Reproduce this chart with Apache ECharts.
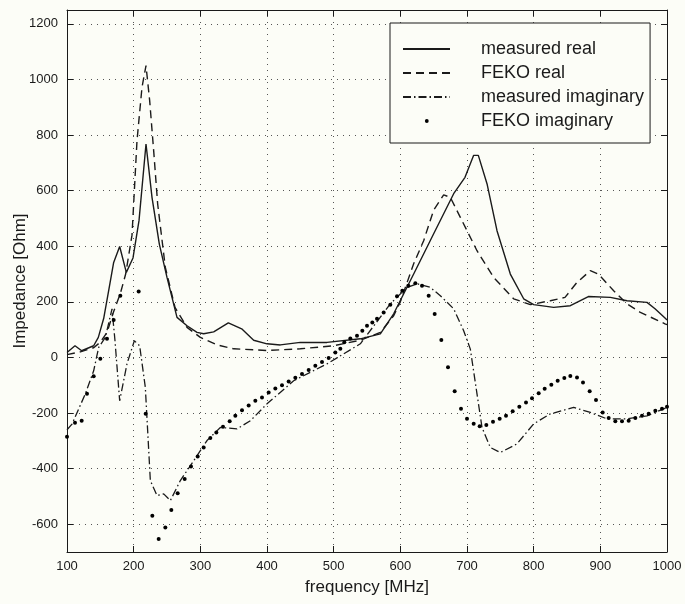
<!DOCTYPE html>
<html><head><meta charset="utf-8">
<script src="https://cdn.jsdelivr.net/npm/echarts@6/dist/echarts.min.js"></script>
<style>html,body{margin:0;padding:0;background:#fcfdf7}#c{width:685px;height:604px}</style>
</head><body><div id="c"></div>
<script>
const seriesNames = ['measured real', 'FEKO real', 'measured imaginary', 'FEKO imaginary'];
const yTicks = [-600, -400, -200, 0, 200, 400, 600, 800, 1000, 1200];

const measuredReal = [[100,18],[112,42],[122,24],[140,42],[147,72],[155,140],[162.5,240],[170,342],[179,399],[189,306],[199,358],[208,492],[218.5,768],[227.5,576],[238.5,408],[250,288],[265,144],[280,114],[295,90],[305,85],[320,92],[342,124],[362,103],[380,62],[400,49],[420,45],[450,54],[490,54],[540,67],[570,85],[590,157],[620,300],[650,445],[680,589],[697,648],[710,727],[717,727],[730,625],[745,456],[765,300],[785,211],[800,190],[830,180],[855,186],[882,219],[915,216],[940,204],[970,198],[982,175],[997,142],[1000,135]];

const fekoReal = [[100,10],[120,20],[140,35],[150,55],[160,90],[170,165],[180,230],[188,300],[197.5,440],[205,780],[212.5,972],[218.5,1050],[224,924],[230,744],[236,552],[247.5,324],[262,180],[280,108],[300,72],[325,45],[350,31],[400,25],[450,31],[500,42],[540,62],[570,90],[590,150],[600,200],[620,337],[635,420],[650,530],[665,585],[675,576],[690,504],[715,384],[740,288],[770,211],[795,190],[825,204],[847,216],[865,270],[885,312],[897,300],[920,240],[940,193],[960,162],[997,121],[1000,118]];

const measuredImag = [[100,-260],[107.5,-240],[127.5,-131],[140,-48],[147.5,36],[157.5,72],[167.5,175],[172,60],[179,-156],[190,-23],[201,60],[209,42],[217.5,-108],[221,-264],[225,-443],[235,-497],[245,-491],[255,-515],[270,-443],[290,-372],[310,-299],[330,-252],[355,-257],[375,-228],[400,-167],[440,-84],[490,-23],[540,49],[585,193],[610,252],[625,265],[645,252],[660,222],[680,175],[695,96],[705,30],[715,-131],[722.5,-252],[735,-324],[750,-342],[775,-311],[800,-239],[825,-203],[860,-180],[885,-198],[910,-221],[940,-221],[970,-210],[1000,-180]];

const fekoImag = [[100,-285],[112,-235],[122,-228],[130,-131],[140,-68],[150,-5],[160,67],[170,135],[180,222],[207.5,237],[218,-203],[228,-570],[237.5,-653],[247.5,-612],[256.5,-549],[266,-489],[276.5,-437],[286,-392],[296,-356],[305,-324],[315,-290],[324,-270],[334,-249],[344,-230],[352.5,-210],[362.5,-190],[372.5,-173],[382.5,-156],[392.5,-144],[402.5,-126],[412.5,-112],[422.5,-100],[432.5,-87],[442.5,-73],[452.5,-60],[462.5,-45],[472.5,-30],[482.5,-16],[492.5,-2],[502.5,18],[510,31],[516,55],[525,68],[535,78],[543,96],[550,114],[558,126],[565,139],[575,162],[585,190],[595,220],[603,240],[612,258],[622.5,267],[632.5,258],[642.5,222],[651.5,156],[661.5,63],[671.5,-35],[681.5,-122],[691,-185],[700,-221],[710,-239],[719,-248],[729,-243],[739,-231],[749,-221],[758.5,-210],[768.5,-194],[778.5,-177],[788.5,-162],[797.5,-147],[807.5,-129],[816.5,-113],[826.5,-98],[836,-84],[846,-74],[855,-67],[865,-72],[874,-90],[884,-122],[893.5,-153],[903.5,-198],[912.5,-218],[922.5,-230],[932.5,-230],[942.5,-228],[952.5,-218],[962.5,-210],[972.5,-203],[982.5,-192],[992.5,-185],[1000,-177]];

const FONT = 'Liberation Sans, Arial, Helvetica, sans-serif';
const INK = '#1a1a1a';
const chart = echarts.init(document.getElementById('c'), null, {renderer: 'canvas'});
const gridLine = {show: true, lineStyle: {color: '#555', width: 1, type: [1, 5]}};
const hiddenAxisCommon = {axisLine: {show: true, onZero: false, lineStyle: {color: INK, width: 1}}, axisLabel: {show: false}, splitLine: {show: false}};
const plain = v => String(v);
const noSymbol = {color: 'rgba(0,0,0,0)', borderWidth: 0, opacity: 0};

chart.setOption({
  backgroundColor: '#fcfdf7',
  animation: false,
  grid: {left: 67, right: 18, top: 10, bottom: 52, containLabel: false, outerBoundsMode: 'none'},
  legend: {
    orient: 'vertical', left: 390, top: 23,
    backgroundColor: '#fcfdf7', borderColor: INK, borderWidth: 1,
    padding: [17, 6, 13, 12],
    itemWidth: 47, itemHeight: 14, itemGap: 6,
    textStyle: {fontFamily: FONT, fontSize: 18, color: INK, padding: [0, 0, 0, 26]},
    data: [
      {name: seriesNames[0], itemStyle: noSymbol},
      {name: seriesNames[1], itemStyle: noSymbol},
      {name: seriesNames[2], itemStyle: noSymbol},
      {name: seriesNames[3], icon: 'path://M0,0M47,14M21.9,7a1.9,1.9 0 1,0 3.8,0a1.9,1.9 0 1,0 -3.8,0z'}
    ]
  },
  xAxis: [{
    type: 'value', min: 100, max: 1000, interval: 100, position: 'bottom',
    name: 'frequency [MHz]', nameLocation: 'middle', nameGap: 27, nameMoveOverlap: false,
    nameTextStyle: {fontFamily: FONT, fontSize: 17, color: INK},
    axisLine: {show: true, onZero: false, lineStyle: {color: INK, width: 1}},
    axisTick: {show: true, inside: true, length: 6, lineStyle: {color: INK}},
    axisLabel: {fontFamily: FONT, fontSize: 13, color: INK, margin: 8, formatter: plain},
    splitLine: gridLine
  }, Object.assign({
    type: 'value', min: 100, max: 1000, interval: 100, position: 'top',
    axisTick: {show: true, inside: true, length: 6, lineStyle: {color: INK}}
  }, hiddenAxisCommon)],
  yAxis: [{
    type: 'value', min: -700, max: 1250, position: 'left',
    name: 'Impedance [Ohm]', nameLocation: 'middle', nameGap: 38, nameMoveOverlap: false,
    nameTextStyle: {fontFamily: FONT, fontSize: 17, color: INK},
    axisLine: {show: true, onZero: false, lineStyle: {color: INK, width: 1}},
    axisTick: {show: true, inside: true, length: 6, lineStyle: {color: INK}, customValues: yTicks},
    axisLabel: {fontFamily: FONT, fontSize: 13, color: INK, margin: 9, customValues: yTicks, formatter: plain},
    splitLine: gridLine
  }, Object.assign({
    type: 'value', min: -700, max: 1250, position: 'right',
    axisTick: {show: true, inside: true, length: 6, lineStyle: {color: INK}, customValues: yTicks}
  }, hiddenAxisCommon)],
  series: [
    {name: seriesNames[0], type: 'line', data: measuredReal, symbol: 'none', showSymbol: false,
     lineStyle: {color: INK, width: 1.4}, itemStyle: {color: INK}, z: 3},
    {name: seriesNames[1], type: 'line', data: fekoReal, symbol: 'none', showSymbol: false,
     lineStyle: {color: INK, width: 1.4, type: [8, 5]}, itemStyle: {color: INK}, z: 3},
    {name: seriesNames[2], type: 'line', data: measuredImag, symbol: 'none', showSymbol: false,
     lineStyle: {color: INK, width: 1.3, type: [8, 3, 1.5, 3]}, itemStyle: {color: INK}, z: 3},
    {name: seriesNames[3], type: 'scatter', data: fekoImag, symbol: 'circle', symbolSize: 4,
     itemStyle: {color: '#000', opacity: 1}, z: 3}
  ]
});
</script></body></html>
